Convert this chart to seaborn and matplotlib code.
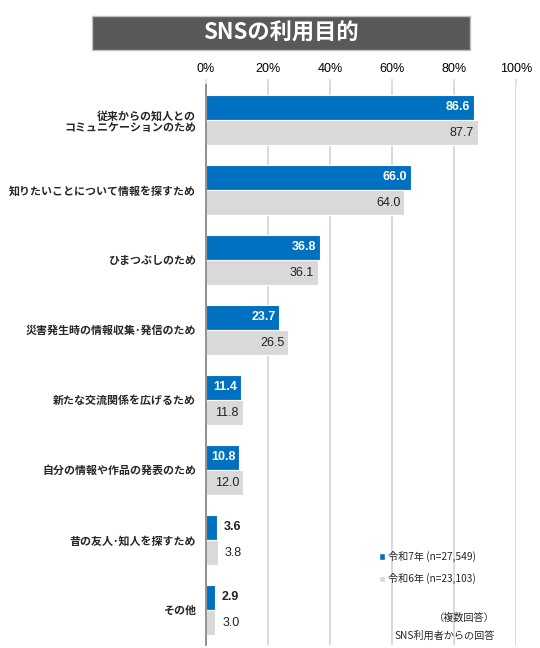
import matplotlib
matplotlib.use('Agg')
import matplotlib.pyplot as plt
import seaborn as sns
import pandas as pd
from matplotlib.patches import Rectangle, Patch

# データ
purposes = [
    '従来からの知人との\nコミュニケーションのため',
    '知りたいことについて情報を探すため',
    'ひまつぶしのため',
    '災害発生時の情報収集･発信のため',
    '新たな交流関係を広げるため',
    '自分の情報や作品の発表のため',
    '昔の友人･知人を探すため',
    'その他',
]
r7_values = [86.6, 66.0, 36.8, 23.7, 11.4, 10.8, 3.6, 2.9]
r6_values = [87.7, 64.0, 36.1, 26.5, 11.8, 12.0, 3.8, 3.0]
series = ['令和7年 (n=27,549)', '令和6年 (n=23,103)']
x_ticks = [0, 20, 40, 60, 80, 100]
x_tick_labels = ['0%', '20%', '40%', '60%', '80%', '100%']

blue = '#0070C0'
gray = '#D9D9D9'

df = pd.DataFrame({
    'purpose': purposes * 2,
    'value': r7_values + r6_values,
    'series': [series[0]] * len(purposes) + [series[1]] * len(purposes),
})

sns.set_style('white')
jp = ['Noto Sans CJK JP', 'DejaVu Sans']
num_font = ['Liberation Sans', 'DejaVu Sans']
plt.rcParams['font.family'] = jp

fig = plt.figure(figsize=(5.4, 6.48), dpi=100)
ax = fig.add_axes([206 / 540, 3 / 648, 310 / 540, 560 / 648])

sns.barplot(data=df, y='purpose', x='value', hue='series', order=purposes,
            hue_order=series, palette=[blue, gray], width=0.72, saturation=1,
            edgecolor='white', linewidth=0.8, legend=False, ax=ax)

ax.set_xlim(0, 100)
ax.set_ylim(len(purposes) - 0.5, -0.5)
ax.set_xlabel('')
ax.set_ylabel('')

# x軸（上側）
ax.xaxis.tick_top()
ax.set_xticks(x_ticks)
ax.set_xticklabels(x_tick_labels, fontsize=9, family=num_font, color='black')
ax.tick_params(axis='x', length=4, width=1.2, color='#D9D9D9', pad=3)
ax.grid(axis='x', color='#D9D9D9', linewidth=1.4)
ax.set_axisbelow(True)

# y軸
ax.set_yticks(range(len(purposes)))
ax.set_yticklabels(purposes, fontsize=7.9, fontweight='bold')
ax.tick_params(axis='y', length=0, pad=7)
ax.set_yticks([i + 0.5 for i in range(-1, len(purposes))], minor=True)
ax.tick_params(axis='y', which='minor', length=4, width=1, color='#7F7F7F')
for lab in ax.get_yticklabels():
    lab.set_multialignment('right')

for s in ['top', 'right', 'bottom']:
    ax.spines[s].set_visible(False)
ax.spines['left'].set_color('#7F7F7F')
ax.spines['left'].set_linewidth(1.2)

# 値ラベル
for ci, cont in enumerate(ax.containers):
    for bar in cont:
        w = bar.get_width()
        yc = bar.get_y() + bar.get_height() / 2
        txt = f'{w:.1f}'
        bold = ci == 0
        if w > 8:
            color = 'white' if ci == 0 else '#222222'
            ax.text(w - 1.3, yc, txt, ha='right', va='center', fontsize=9,
                    color=color, fontweight='bold' if bold else 'normal',
                    family=num_font)
        else:
            ax.text(w + 2.2, yc, txt, ha='left', va='center', fontsize=9,
                    color='#222222', fontweight='bold' if bold else 'normal',
                    family=num_font)

# 凡例
handles = [Patch(facecolor=blue), Patch(facecolor=gray)]
fig.legend(handles, series, loc='upper left', bbox_to_anchor=(370 / 540, 1 - 542 / 648),
           frameon=False, fontsize=7.3, handlelength=0.6, handleheight=0.6,
           handletextpad=0.3, labelspacing=1.1)

# 注記
fig.text(495 / 540, 1 - 618 / 648, '（複数回答）', ha='right', va='center', fontsize=7.3)
fig.text(495 / 540, 1 - 636 / 648, 'SNS利用者からの回答', ha='right', va='center', fontsize=7.3)

# タイトル
fig.add_artist(Rectangle((92 / 540, 1 - 50 / 648), 378 / 540, 34 / 648,
                         transform=fig.transFigure, facecolor='#595959',
                         edgecolor='#BFBFBF', linewidth=1))
fig.text(281 / 540, 1 - 33 / 648, 'SNSの利用目的', ha='center', va='center',
         fontsize=16, fontweight='bold', color='white')

fig.savefig('out.png', dpi=100)
